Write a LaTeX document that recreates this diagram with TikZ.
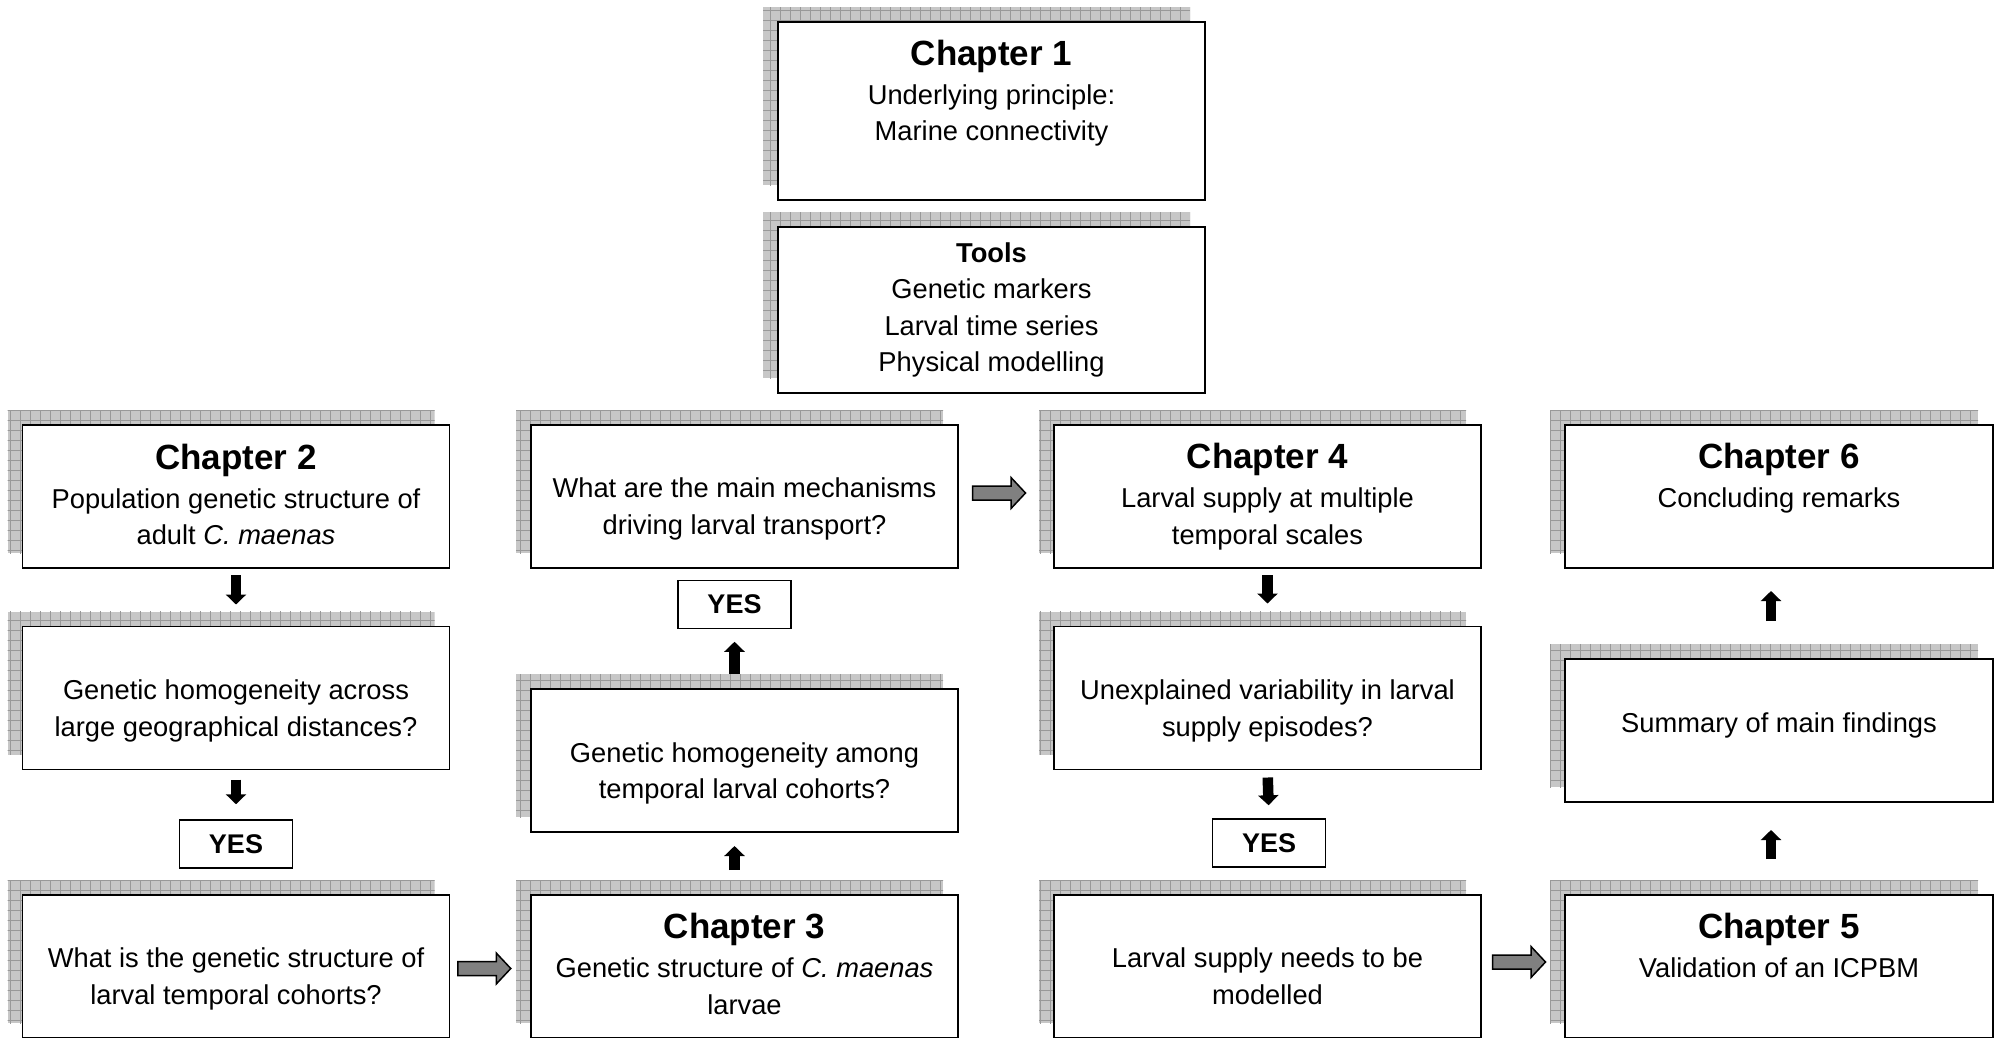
\documentclass[tikz,border=0pt]{standalone}
\usepackage{fontspec}
\setmainfont{Liberation Sans}
\usetikzlibrary{arrows.meta,calc,backgrounds}
\newcommand\chap[1]{{\fontsize{35}{40}\selectfont\bfseries #1}}
\newcommand\lines[1]{\begin{tabular}[t]{@{}c@{}}#1\end{tabular}}
\newcommand\shadowof[1]{%
  \begin{scope}
    \clip ($(#1.north west)+(-15,-15)$) rectangle ($(#1.south east)+(-15,-15)$);
    \fill[shadowfill] ($(#1.north west)+(-15,-15)$) rectangle ($(#1.south east)+(-15,-15)$);
    \draw[shadowgrid] ($(#1.north west)+(-25,-25)$) grid[step=10pt] ($(#1.south east)$);
  \end{scope}}
\newcommand\grayarrow[1]{%
  \draw[garrow] (#1) ++(-26.5,-7) -- ++(38.5,0) -- ++(0,-8.5) -- ++(14.5,15.5) -- ++(-14.5,15.5) -- ++(0,-8.5) -- ++(-38.5,0) -- cycle;}
\begin{document}
\begin{tikzpicture}[x=1pt,y=-1pt,
  box/.style={draw=black, line width=1.8pt, fill=white, inner sep=0pt, outer sep=0pt, minimum width=427pt, minimum height=143pt},
  yesbox/.style={draw=black, line width=1.5pt, fill=white, inner sep=0pt, minimum width=113pt, minimum height=48pt, font=\fontsize{27}{32}\selectfont\bfseries},
  txt/.style={inner sep=0pt, anchor=base, font=\fontsize{27.3}{36.5}\selectfont},
  blk/.style={line width=10.5pt, -{Triangle[width=20pt,length=10pt]}, black},
  garrow/.style={draw=black, line width=1.5pt, fill=black!50, line join=miter},
  shadowfill/.style={fill=black!22},
  shadowgrid/.style={draw=black!40, line width=0.7pt}
]
\useasboundingbox (0,0) rectangle (1997,1037);
\clip (0,0) rectangle (1997,1037);

% top boxes
\node[box, minimum height=178pt] (ch1) at (991.5,111) {};
\node[box, minimum height=166pt] (tools) at (991.5,310) {};
\node[txt] (ch1t) at ($(ch1.north)+(0,43)$) {\lines{\chap{Chapter 1}\\[2.5pt] Underlying principle:\\ Marine connectivity}};
\node[txt] (toolst) at ($(tools.north)+(0,35)$) {\lines{\textbf{Tools}\\ Genetic markers\\ Larval time series\\ Physical modelling}};

% column 1
\node[box] (c2) at (236,496.5) {};
\node[box] (q1) at (236,698) {};
\node[yesbox] (yes1) at (236,844) {YES};
\node[box] (r3a) at (236,966.5) {};
\node[txt] (c2t) at ($(c2.north)+(0,44)$) {\lines{\chap{Chapter 2}\\[2.5pt] Population genetic structure of\\ adult \textit{C. maenas}}};
\node[txt] (q1t) at ($(q1.north)+(0,73)$) {\lines{Genetic homogeneity across\\ large geographical distances?}};
\node[txt] (r3at) at ($(r3a.north)+(0,72.5)$) {\lines{What is the genetic structure of\\ larval temporal cohorts?}};

% column 2
\node[box] (q2) at (744.5,496.5) {};
\node[yesbox] (yes2) at (734.5,604.5) {YES};
\node[box] (among) at (744.5,760.5) {};
\node[box] (c3) at (744.5,966.5) {};
\node[txt] (q2t) at ($(q2.north)+(0,72.5)$) {\lines{What are the main mechanisms\\ driving larval transport?}};
\node[txt] (amongt) at ($(among.north)+(0,73)$) {\lines{Genetic homogeneity among\\ temporal larval cohorts?}};
\node[txt] (c3t) at ($(c3.north)+(0,43.5)$) {\lines{\chap{Chapter 3}\\[2.5pt] Genetic structure of \textit{C. maenas}\\ larvae}};

% column 3
\node[box] (c4) at (1267.5,496.5) {};
\node[box] (un) at (1267.5,698) {};
\node[yesbox] (yes3) at (1269,843) {YES};
\node[box] (r3c) at (1267.5,966.5) {};
\node[txt] (c4t) at ($(c4.north)+(0,43.5)$) {\lines{\chap{Chapter 4}\\[2.5pt] Larval supply at multiple\\ temporal scales}};
\node[txt] (unt) at ($(un.north)+(0,73)$) {\lines{Unexplained variability in larval\\ supply episodes?}};
\node[txt] (r3ct) at ($(r3c.north)+(0,72.5)$) {\lines{Larval supply needs to be\\ modelled}};

% column 4
\node[box, minimum width=428pt] (c6) at (1779,496.5) {};
\node[box, minimum width=428pt] (sum) at (1779,730.5) {};
\node[box, minimum width=428pt] (c5) at (1779,966.5) {};
\node[txt] (c6t) at ($(c6.north)+(0,43.5)$) {\lines{\chap{Chapter 6}\\[2.5pt] Concluding remarks}};
\node[txt] (sumt) at ($(sum.north)+(0,73)$) {\lines{Summary of main findings}};
\node[txt] (c5t) at ($(c5.north)+(0,43.5)$) {\lines{\chap{Chapter 5}\\[2.5pt] Validation of an ICPBM}};

% shadows
\begin{scope}[on background layer]
  \fill[white] (0,0) rectangle (1997,1037);
  \foreach \n in {ch1,tools,c2,q1,r3a,q2,among,c3,c4,un,r3c,c6,sum,c5} {\shadowof{\n}}
\end{scope}

% black block arrows
\draw[blk, shorten <=7pt, shorten >=22pt] (c2.south) -- (q1.north);
\draw[blk, shorten <=10pt, shorten >=15pt] (q1.south) -- (yes1.north);
\draw[blk, shorten <=25pt, shorten >=14pt] (c3.north -| yes2) -- (among.south -| yes2);
\draw[blk, shorten <=15pt, shorten >=12.5pt] (among.north -| yes2) -- (yes2.south);
\draw[blk, shorten <=7pt, shorten >=23pt] (c4.south) -- (un.north);
\draw[blk, shorten <=8pt, shorten >=13pt] (un.south) -- (yes3.north);
\draw[blk, shorten <=36pt, shorten >=28pt] ($(c5.north)+(-8,0)$) -- ($(sum.south)+(-8,0)$);
\draw[blk, shorten <=38pt, shorten >=23pt] ($(sum.north)+(-8,0)$) -- ($(c6.south)+(-8,0)$);

% gray block arrows
\coordinate (ga1) at ($(r3a.east)!0.5!(c3.west)+(-6,2)$);
\coordinate (ga2) at ($(q2.east)!0.5!(c4.west)+(-7,-3.5)$);
\coordinate (ga3) at ($(r3c.east)!0.5!(c5.west)+(-4,-4.5)$);
\grayarrow{ga1}
\grayarrow{ga2}
\grayarrow{ga3}
\end{tikzpicture}
\end{document}
